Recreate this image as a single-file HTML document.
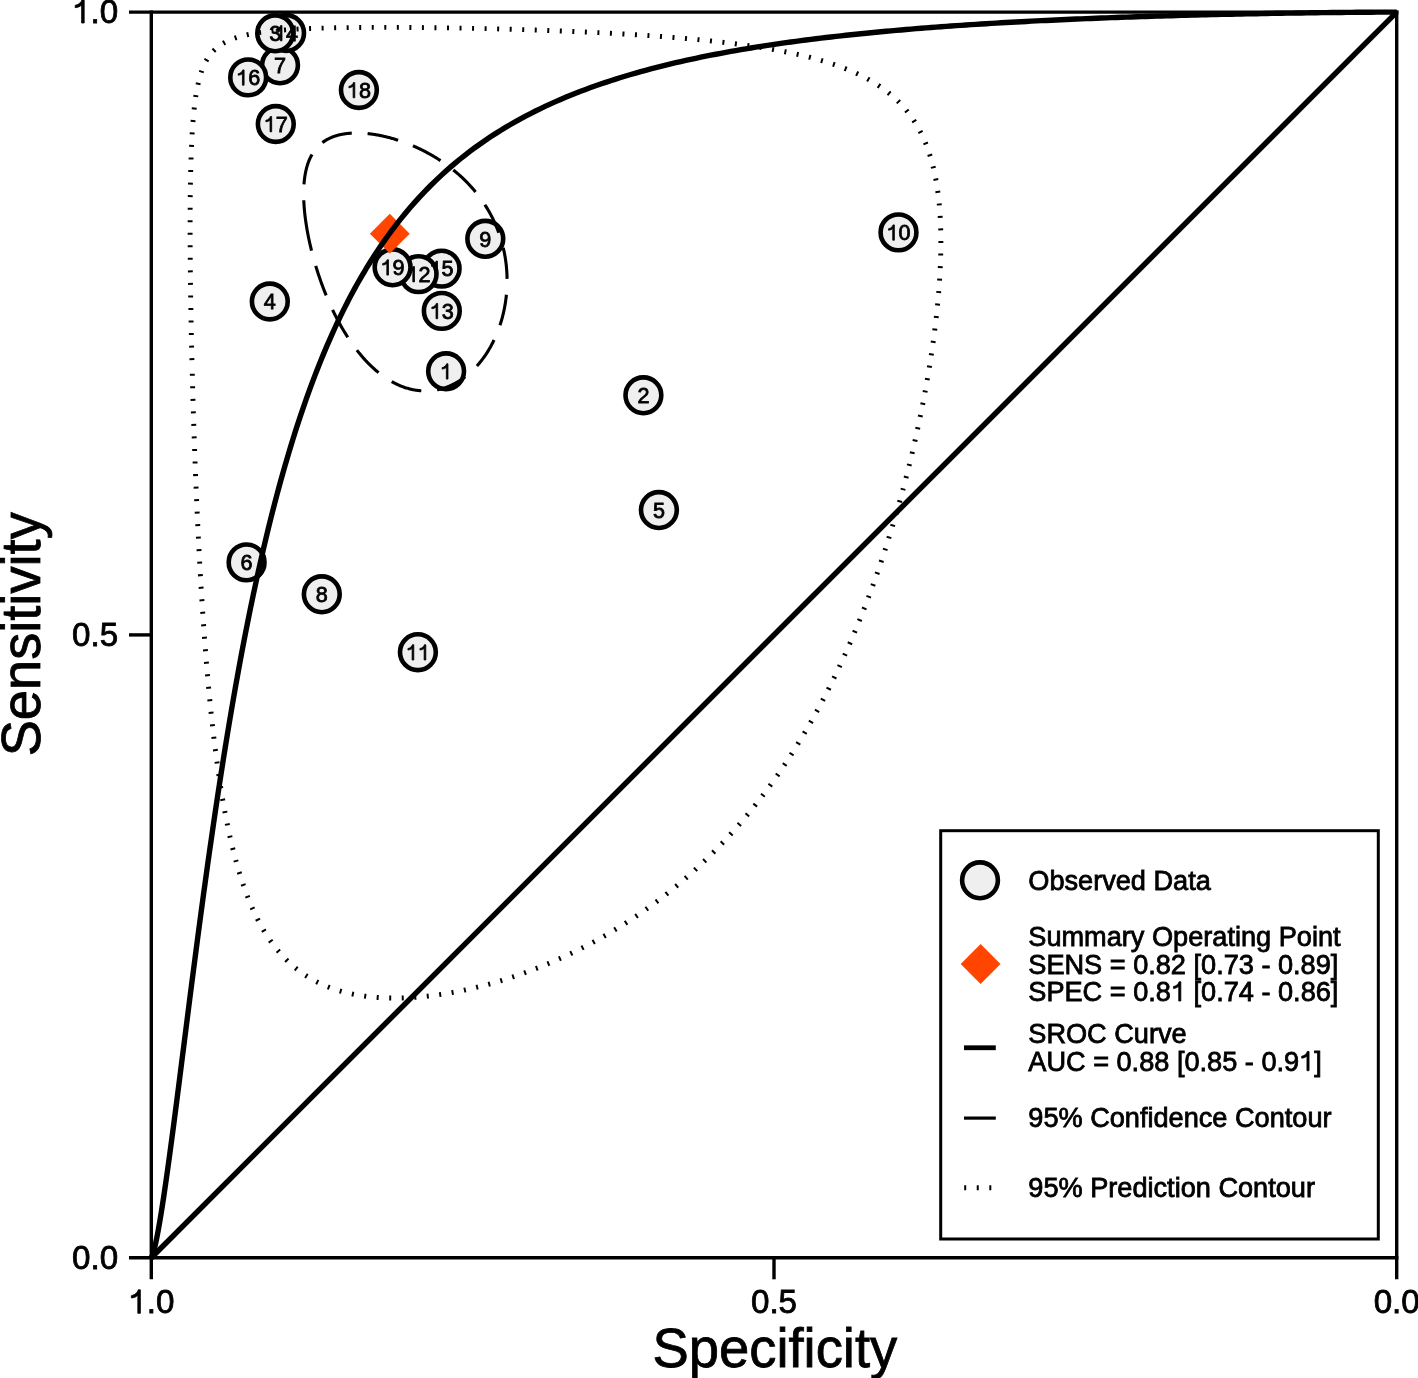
<!DOCTYPE html>
<html><head><meta charset="utf-8">
<style>
html,body{margin:0;padding:0;background:#fff;}
svg{display:block;will-change:transform;}
text{font-family:"Liberation Sans", sans-serif;fill:#000;stroke:#000;stroke-width:0.8px;font-kerning:none;}
.one{fill:none !important;stroke:none !important;}
</style></head>
<body>
<svg width="1418" height="1378" viewBox="0 0 1418 1378">
<rect width="1418" height="1378" fill="#fff"/>
<g stroke="#000" stroke-width="3.4" fill="none" stroke-linecap="butt">
<path d="M129,12.1 H1398.4"/>
<path d="M129,1257.75 H1398.4"/>
<path d="M151.3,10.4 V1279.3"/>
<path d="M1396.7,10.4 V1279.3"/>
<path d="M129,634.9 H151.3"/>
<path d="M774,1257.75 V1279.3"/>
</g>
<path d="M151.3,1257.75 L1396.7,12.1" stroke="#000" stroke-width="5.4" fill="none"/>
<g fill="#efefef" stroke="#000" stroke-width="4.6">
<circle cx="280.0" cy="65.3" r="17.9"/>
<circle cx="248.2" cy="77.4" r="17.9"/>
<circle cx="286.1" cy="33.0" r="17.9"/>
<circle cx="275.2" cy="33.3" r="17.9"/>
<circle cx="275.8" cy="124.0" r="17.9"/>
<circle cx="358.9" cy="90.0" r="17.9"/>
<circle cx="269.8" cy="301.5" r="17.9"/>
<circle cx="898.5" cy="232.4" r="17.9"/>
<circle cx="485.3" cy="238.8" r="17.9"/>
<circle cx="441.6" cy="268.6" r="17.9"/>
<circle cx="418.6" cy="274.1" r="17.9"/>
<circle cx="392.6" cy="267.3" r="17.9"/>
<circle cx="441.8" cy="310.9" r="17.9"/>
<circle cx="446.1" cy="371.3" r="17.9"/>
<circle cx="643.4" cy="395.3" r="17.9"/>
<circle cx="658.9" cy="510.05" r="17.9"/>
<circle cx="246.6" cy="562.4" r="17.9"/>
<circle cx="321.8" cy="594.3" r="17.9"/>
<circle cx="417.9" cy="652.2" r="17.9"/>
</g>
<path d="M389.8,213.79999999999998 L409.7,233.7 L389.8,253.6 L369.90000000000003,233.7 Z" fill="#ff4500"/>
<path d="M151.30,1257.75 L151.30,1257.75 L151.30,1257.75 L151.30,1257.75 L151.30,1257.75 L151.30,1257.75 L151.30,1257.75 L151.30,1257.75 L151.30,1257.75 L151.30,1257.75 L151.30,1257.75 L151.30,1257.75 L151.30,1257.75 L151.30,1257.75 L151.30,1257.75 L151.30,1257.75 L151.30,1257.75 L151.30,1257.75 L151.30,1257.75 L151.30,1257.75 L151.31,1257.75 L151.31,1257.75 L151.31,1257.75 L151.31,1257.75 L151.31,1257.75 L151.31,1257.74 L151.32,1257.74 L151.32,1257.74 L151.32,1257.74 L151.33,1257.73 L151.34,1257.73 L151.34,1257.72 L151.35,1257.71 L151.36,1257.70 L151.38,1257.69 L151.39,1257.67 L151.42,1257.65 L151.44,1257.62 L151.47,1257.58 L151.51,1257.53 L151.55,1257.46 L151.61,1257.37 L151.67,1257.26 L151.75,1257.11 L151.85,1256.91 L151.97,1256.66 L152.11,1256.32 L152.29,1255.88 L152.50,1255.31 L152.76,1254.55 L153.07,1253.57 L153.45,1252.27 L153.91,1250.58 L154.48,1248.36 L155.16,1245.46 L155.99,1241.65 L157.01,1236.68 L158.24,1230.18 L159.73,1221.72 L161.55,1210.72 L163.75,1196.47 L165.74,1182.96 L167.73,1168.94 L169.72,1154.49 L171.71,1139.69 L173.70,1124.62 L175.68,1109.34 L177.67,1093.89 L179.66,1078.34 L181.65,1062.71 L183.64,1047.05 L185.63,1031.39 L187.62,1015.76 L189.60,1000.19 L191.59,984.71 L193.58,969.32 L195.57,954.05 L197.56,938.92 L199.55,923.94 L201.53,909.12 L203.52,894.47 L205.51,880.01 L207.50,865.73 L209.49,851.65 L211.48,837.77 L213.47,824.10 L215.45,810.64 L217.44,797.39 L219.43,784.35 L221.42,771.53 L223.41,758.92 L225.40,746.53 L227.38,734.36 L229.37,722.40 L231.36,710.66 L233.35,699.13 L235.34,687.81 L237.33,676.70 L239.32,665.80 L241.30,655.10 L243.29,644.60 L245.28,634.31 L247.27,624.20 L249.26,614.30 L251.25,604.58 L253.23,595.05 L255.22,585.71 L257.21,576.54 L259.20,567.56 L261.19,558.75 L263.18,550.11 L265.17,541.64 L267.15,533.33 L269.14,525.19 L271.13,517.20 L273.12,509.37 L275.11,501.69 L277.10,494.16 L279.08,486.78 L281.07,479.54 L283.06,472.44 L285.05,465.48 L287.04,458.65 L289.03,451.95 L291.02,445.38 L293.00,438.93 L294.99,432.61 L296.98,426.41 L298.97,420.33 L300.96,414.36 L302.95,408.51 L304.93,402.76 L306.92,397.12 L308.91,391.59 L310.90,386.16 L312.89,380.83 L314.88,375.60 L316.86,370.46 L318.85,365.42 L320.84,360.48 L322.83,355.62 L324.82,350.85 L326.81,346.16 L328.80,341.57 L330.78,337.05 L332.77,332.61 L334.76,328.25 L336.75,323.97 L338.74,319.77 L340.73,315.64 L342.71,311.58 L344.70,307.59 L346.69,303.67 L348.68,299.82 L350.67,296.04 L352.66,292.32 L354.65,288.66 L356.63,285.07 L358.62,281.53 L360.61,278.06 L362.60,274.64 L364.59,271.29 L366.58,267.98 L368.56,264.74 L370.55,261.54 L372.54,258.40 L374.53,255.31 L376.52,252.27 L378.51,249.28 L380.50,246.33 L382.48,243.44 L384.47,240.59 L386.46,237.79 L388.45,235.03 L390.44,232.31 L392.43,229.64 L394.41,227.01 L396.40,224.42 L398.39,221.87 L400.38,219.36 L405.39,213.21 L410.39,207.29 L415.40,201.60 L420.41,196.11 L425.41,190.83 L430.42,185.74 L435.43,180.83 L440.43,176.10 L445.44,171.54 L450.45,167.13 L455.45,162.88 L460.46,158.77 L465.47,154.80 L470.47,150.97 L475.48,147.26 L480.49,143.68 L485.49,140.21 L490.50,136.85 L495.51,133.61 L500.51,130.46 L505.52,127.41 L510.53,124.46 L515.53,121.60 L520.54,118.83 L525.55,116.15 L530.55,113.54 L535.56,111.01 L540.57,108.56 L545.57,106.17 L550.58,103.86 L555.59,101.62 L560.59,99.44 L565.60,97.32 L570.61,95.26 L575.61,93.25 L580.62,91.31 L585.63,89.42 L590.63,87.58 L595.64,85.79 L600.65,84.04 L605.65,82.35 L610.66,80.70 L615.67,79.09 L620.67,77.52 L625.68,76.00 L630.69,74.52 L635.69,73.07 L640.70,71.66 L645.71,70.28 L650.71,68.95 L655.72,67.64 L660.72,66.37 L665.73,65.12 L670.74,63.91 L675.74,62.73 L680.75,61.58 L685.76,60.45 L690.76,59.35 L695.77,58.28 L700.78,57.23 L705.78,56.21 L710.79,55.21 L715.80,54.24 L720.80,53.28 L725.81,52.35 L730.82,51.44 L735.82,50.56 L740.83,49.69 L745.84,48.84 L750.84,48.01 L755.85,47.20 L760.86,46.41 L765.86,45.63 L770.87,44.87 L775.88,44.13 L780.88,43.40 L785.89,42.69 L790.90,42.00 L795.90,41.32 L800.91,40.66 L805.92,40.01 L810.92,39.37 L815.93,38.75 L820.94,38.14 L825.94,37.54 L830.95,36.96 L835.96,36.38 L840.96,35.82 L845.97,35.27 L850.98,34.74 L855.98,34.21 L860.99,33.70 L866.00,33.19 L871.00,32.70 L876.01,32.21 L881.02,31.74 L886.02,31.27 L891.03,30.82 L896.04,30.37 L901.04,29.94 L906.05,29.51 L911.06,29.09 L916.06,28.68 L921.07,28.27 L926.08,27.88 L931.08,27.49 L936.09,27.11 L941.10,26.74 L946.10,26.38 L951.11,26.02 L956.12,25.67 L961.12,25.33 L966.13,24.99 L971.14,24.66 L976.14,24.34 L981.15,24.02 L986.16,23.71 L991.16,23.40 L996.17,23.11 L1001.18,22.81 L1006.18,22.53 L1011.19,22.24 L1016.20,21.97 L1021.20,21.70 L1026.21,21.43 L1031.22,21.17 L1036.22,20.92 L1041.23,20.67 L1046.24,20.43 L1051.24,20.19 L1056.25,19.95 L1061.26,19.72 L1066.26,19.49 L1071.27,19.27 L1076.28,19.06 L1081.28,18.84 L1086.29,18.64 L1091.30,18.43 L1096.30,18.23 L1101.31,18.04 L1106.32,17.84 L1111.32,17.66 L1116.33,17.47 L1121.34,17.29 L1126.34,17.12 L1131.35,16.94 L1136.36,16.77 L1141.36,16.61 L1146.37,16.45 L1151.37,16.29 L1156.38,16.13 L1161.39,15.98 L1166.39,15.83 L1171.40,15.69 L1176.41,15.55 L1181.41,15.41 L1186.42,15.27 L1191.43,15.14 L1196.43,15.01 L1201.44,14.88 L1206.45,14.76 L1211.45,14.64 L1216.46,14.52 L1221.47,14.41 L1226.47,14.29 L1231.48,14.18 L1236.49,14.08 L1241.49,13.97 L1246.50,13.87 L1251.51,13.77 L1256.51,13.68 L1261.52,13.59 L1266.53,13.50 L1271.53,13.41 L1276.54,13.32 L1281.55,13.24 L1286.55,13.16 L1291.56,13.08 L1296.57,13.01 L1301.57,12.94 L1306.58,12.87 L1311.59,12.80 L1316.59,12.73 L1321.60,12.67 L1326.61,12.61 L1331.61,12.56 L1336.62,12.50 L1341.63,12.45 L1346.63,12.40 L1351.64,12.36 L1356.65,12.31 L1361.65,12.27 L1366.66,12.24 L1371.67,12.20 L1376.67,12.17 L1381.68,12.15 L1386.69,12.13 L1391.69,12.11 L1396.70,12.10" stroke="#000" stroke-width="5.4" fill="none" stroke-linejoin="round"/>
<path d="M305.54,219.87 L305.66,220.71 L305.78,221.56 L305.90,222.41 L306.03,223.27 L306.16,224.12 L306.29,224.98 L306.43,225.85 L306.57,226.72 L306.71,227.59 L306.86,228.46 L307.01,229.34 L307.16,230.22 L307.32,231.10 L307.48,231.99 L307.65,232.88 L307.82,233.77 L307.99,234.66 L308.16,235.56 L308.34,236.46 L308.52,237.36 L308.71,238.27 L308.90,239.18 L309.09,240.09 L309.29,241.00 L309.49,241.92 L309.69,242.84 L309.90,243.76 L310.11,244.68 L310.32,245.60 L310.54,246.53 L310.76,247.46 L310.98,248.39 L311.21,249.33 L311.44,250.26 L311.67,251.20 L311.91,252.14 L312.15,253.08 L312.40,254.03 L312.65,254.97 L312.90,255.92 L313.15,256.87 L313.41,257.82 L313.67,258.77 L313.94,259.72 L314.21,260.68 L314.48,261.64 L314.76,262.59 L315.04,263.55 L315.32,264.51 L315.61,265.47 L315.90,266.44 L316.19,267.40 L316.49,268.36 L316.79,269.33 L317.10,270.30 L317.40,271.26 L317.72,272.23 L318.03,273.20 L318.35,274.17 L318.67,275.14 L319.00,276.11 L319.32,277.08 L319.66,278.05 L319.99,279.02 L320.33,279.99 L320.67,280.96 L321.02,281.94 L321.37,282.91 L321.72,283.88 L322.08,284.85 L322.44,285.82 L322.80,286.79 L323.17,287.76 L323.54,288.73 L323.92,289.70 L324.29,290.67 L324.68,291.64 L325.06,292.61 L325.45,293.58 L325.84,294.54 L326.23,295.51 L326.63,296.47 L327.03,297.44 L327.44,298.40 L327.85,299.36 L328.26,300.32 L328.68,301.28 L329.10,302.24 L329.52,303.19 L329.94,304.15 L330.37,305.10 L330.81,306.05 L331.24,307.00 L331.68,307.95 L332.12,308.89 L332.57,309.84 L333.02,310.78 L333.47,311.72 L333.93,312.66 L334.39,313.59 L334.85,314.52 L335.32,315.45 L335.79,316.38 L336.26,317.31 L336.74,318.23 L337.22,319.15 L337.70,320.06 L338.19,320.98 L338.68,321.89 L339.17,322.80 L339.67,323.70 L340.17,324.60 L340.67,325.50 L341.18,326.40 L341.69,327.29 L342.20,328.18 L342.72,329.06 L343.23,329.94 L343.76,330.82 L344.28,331.69 L344.81,332.56 L345.34,333.43 L345.88,334.29 L346.42,335.15 L346.96,336.00 L347.50,336.85 L348.05,337.70 L348.60,338.54 L349.16,339.37 L349.71,340.21 L350.27,341.03 L350.84,341.86 L351.40,342.67 L351.97,343.49 L352.54,344.30 L353.12,345.10 L353.70,345.90 L354.28,346.69 L354.86,347.48 L355.45,348.26 L356.04,349.04 L356.63,349.81 L357.23,350.58 L357.83,351.34 L358.43,352.10 L359.03,352.85 L359.64,353.59 L360.25,354.33 L360.86,355.07 L361.48,355.79 L362.09,356.52 L362.71,357.23 L363.34,357.94 L363.96,358.64 L364.59,359.34 L365.22,360.03 L365.86,360.72 L366.49,361.40 L367.13,362.07 L367.77,362.73 L368.42,363.39 L369.07,364.05 L369.71,364.69 L370.37,365.33 L371.02,365.96 L371.68,366.59 L372.34,367.21 L373.00,367.82 L373.66,368.42 L374.33,369.02 L374.99,369.61 L375.66,370.20 L376.34,370.77 L377.01,371.34 L377.69,371.90 L378.37,372.46 L379.05,373.01 L379.73,373.55 L380.42,374.08 L381.10,374.60 L381.79,375.12 L382.48,375.63 L383.18,376.13 L383.87,376.63 L384.57,377.11 L385.27,377.59 L385.97,378.06 L386.67,378.52 L387.37,378.98 L388.08,379.43 L388.78,379.87 L389.49,380.30 L390.20,380.72 L390.92,381.13 L391.63,381.54 L392.34,381.94 L393.06,382.33 L393.78,382.71 L394.50,383.09 L395.22,383.45 L395.94,383.81 L396.66,384.16 L397.39,384.50 L398.11,384.83 L398.84,385.15 L399.57,385.47 L400.30,385.77 L401.03,386.07 L401.76,386.36 L402.49,386.64 L403.22,386.91 L403.96,387.17 L404.69,387.43 L405.43,387.67 L406.16,387.91 L406.90,388.14 L407.64,388.36 L408.38,388.57 L409.12,388.77 L409.86,388.96 L410.60,389.15 L411.34,389.32 L412.08,389.49 L412.82,389.65 L413.56,389.79 L414.30,389.93 L415.05,390.06 L415.79,390.19 L416.53,390.30 L417.27,390.40 L418.02,390.50 L418.76,390.58 L419.50,390.66 L420.25,390.73 L420.99,390.79 L421.73,390.84 L422.47,390.88 L423.22,390.91 L423.96,390.93 L424.70,390.94 L425.44,390.95 L426.18,390.94 L426.92,390.93 L427.66,390.91 L428.40,390.88 L429.14,390.84 L429.88,390.79 L430.61,390.73 L431.35,390.66 L432.09,390.58 L432.82,390.50 L433.55,390.40 L434.29,390.30 L435.02,390.19 L435.75,390.07 L436.48,389.93 L437.21,389.80 L437.94,389.65 L438.66,389.49 L439.39,389.32 L440.11,389.15 L440.83,388.96 L441.55,388.77 L442.27,388.57 L442.99,388.36 L443.71,388.14 L444.42,387.91 L445.13,387.68 L445.84,387.43 L446.55,387.18 L447.26,386.91 L447.97,386.64 L448.67,386.36 L449.37,386.07 L450.07,385.77 L450.77,385.47 L451.46,385.15 L452.15,384.83 L452.84,384.50 L453.53,384.16 L454.22,383.81 L454.90,383.45 L455.58,383.09 L456.26,382.71 L456.94,382.33 L457.61,381.94 L458.28,381.54 L458.95,381.14 L459.62,380.72 L460.28,380.30 L460.94,379.87 L461.59,379.43 L462.25,378.98 L462.90,378.53 L463.55,378.07 L464.19,377.59 L464.83,377.12 L465.47,376.63 L466.11,376.14 L466.74,375.63 L467.37,375.12 L467.99,374.61 L468.61,374.08 L469.23,373.55 L469.85,373.01 L470.46,372.46 L471.06,371.91 L471.67,371.35 L472.27,370.78 L472.86,370.20 L473.46,369.62 L474.05,369.03 L474.63,368.43 L475.21,367.82 L475.79,367.21 L476.36,366.59 L476.93,365.97 L477.49,365.34 L478.05,364.70 L478.61,364.05 L479.16,363.40 L479.71,362.74 L480.25,362.07 L480.79,361.40 L481.33,360.72 L481.86,360.04 L482.38,359.35 L482.90,358.65 L483.42,357.95 L483.93,357.24 L484.44,356.52 L484.94,355.80 L485.44,355.07 L485.93,354.34 L486.42,353.60 L486.90,352.85 L487.38,352.10 L487.85,351.35 L488.32,350.59 L488.78,349.82 L489.24,349.05 L489.70,348.27 L490.14,347.49 L490.59,346.70 L491.02,345.90 L491.46,345.10 L491.88,344.30 L492.31,343.49 L492.72,342.68 L493.13,341.86 L493.54,341.04 L493.94,340.21 L494.33,339.38 L494.72,338.54 L495.11,337.70 L495.48,336.86 L495.86,336.01 L496.22,335.15 L496.58,334.30 L496.94,333.44 L497.29,332.57 L497.63,331.70 L497.97,330.83 L498.30,329.95 L498.63,329.07 L498.95,328.18 L499.27,327.30 L499.58,326.40 L499.88,325.51 L500.18,324.61 L500.47,323.71 L500.75,322.80 L501.03,321.90 L501.30,320.98 L501.57,320.07 L501.83,319.15 L502.09,318.23 L502.34,317.31 L502.58,316.39 L502.81,315.46 L503.04,314.53 L503.27,313.60 L503.49,312.66 L503.70,311.73 L503.90,310.79 L504.10,309.84 L504.29,308.90 L504.48,307.96 L504.66,307.01 L504.83,306.06 L505.00,305.11 L505.16,304.15 L505.32,303.20 L505.47,302.24 L505.61,301.29 L505.74,300.33 L505.87,299.37 L505.99,298.41 L506.11,297.44 L506.22,296.48 L506.32,295.52 L506.42,294.55 L506.51,293.58 L506.59,292.62 L506.67,291.65 L506.74,290.68 L506.80,289.71 L506.86,288.74 L506.91,287.77 L506.96,286.80 L506.99,285.83 L507.03,284.86 L507.05,283.89 L507.07,282.91 L507.08,281.94 L507.09,280.97 L507.08,280.00 L507.08,279.03 L507.06,278.06 L507.04,277.09 L507.01,276.12 L506.98,275.15 L506.94,274.18 L506.89,273.21 L506.84,272.24 L506.78,271.27 L506.71,270.30 L506.64,269.34 L506.56,268.37 L506.47,267.41 L506.38,266.44 L506.28,265.48 L506.17,264.52 L506.06,263.56 L505.94,262.60 L505.82,261.64 L505.69,260.69 L505.55,259.73 L505.40,258.78 L505.25,257.83 L505.10,256.87 L504.93,255.93 L504.76,254.98 L504.59,254.03 L504.40,253.09 L504.22,252.15 L504.02,251.21 L503.82,250.27 L503.61,249.33 L503.40,248.40 L503.18,247.47 L502.95,246.54 L502.72,245.61 L502.48,244.69 L502.23,243.76 L501.98,242.84 L501.72,241.92 L501.46,241.01 L501.19,240.09 L500.92,239.18 L500.63,238.28 L500.35,237.37 L500.05,236.47 L499.75,235.57 L499.45,234.67 L499.14,233.78 L498.82,232.88 L498.50,231.99 L498.17,231.11 L497.83,230.23 L497.49,229.35 L497.15,228.47 L496.79,227.59 L496.44,226.72 L496.07,225.86 L495.70,224.99 L495.33,224.13 L494.95,223.27 L494.56,222.42 L494.17,221.57 L493.77,220.72 L493.37,219.87 L492.96,219.03 L492.55,218.19 L492.13,217.36 L491.71,216.53 L491.28,215.70 L490.84,214.88 L490.40,214.06 L489.96,213.24 L489.51,212.43 L489.05,211.62 L488.59,210.81 L488.13,210.01 L487.66,209.21 L487.18,208.42 L486.70,207.63 L486.22,206.84 L485.73,206.06 L485.23,205.28 L484.73,204.50 L484.23,203.73 L483.72,202.96 L483.21,202.20 L482.69,201.44 L482.16,200.68 L481.64,199.93 L481.11,199.18 L480.57,198.44 L480.03,197.70 L479.48,196.97 L478.93,196.23 L478.38,195.51 L477.82,194.78 L477.26,194.06 L476.69,193.35 L476.12,192.64 L475.55,191.93 L474.97,191.23 L474.39,190.53 L473.80,189.84 L473.21,189.15 L472.62,188.46 L472.02,187.78 L471.42,187.10 L470.81,186.43 L470.20,185.76 L469.59,185.10 L468.97,184.44 L468.36,183.78 L467.73,183.13 L467.11,182.48 L466.48,181.84 L465.84,181.20 L465.21,180.57 L464.57,179.94 L463.92,179.31 L463.28,178.69 L462.63,178.07 L461.98,177.46 L461.32,176.85 L460.66,176.25 L460.00,175.65 L459.34,175.05 L458.67,174.46 L458.00,173.88 L457.33,173.29 L456.66,172.72 L455.98,172.14 L455.30,171.57 L454.62,171.01 L453.93,170.45 L453.25,169.89 L452.56,169.34 L451.87,168.79 L451.17,168.25 L450.48,167.71 L449.78,167.18 L449.08,166.65 L448.38,166.12 L447.67,165.60 L446.97,165.09 L446.26,164.57 L445.55,164.07 L444.84,163.56 L444.12,163.06 L443.41,162.57 L442.69,162.08 L441.97,161.59 L441.25,161.11 L440.53,160.63 L439.81,160.16 L439.09,159.69 L438.36,159.22 L437.63,158.76 L436.91,158.31 L436.18,157.86 L435.45,157.41 L434.72,156.97 L433.98,156.53 L433.25,156.09 L432.52,155.66 L431.78,155.24 L431.04,154.81 L430.31,154.40 L429.57,153.98 L428.83,153.57 L428.09,153.17 L427.35,152.77 L426.61,152.37 L425.87,151.98 L425.13,151.59 L424.39,151.21 L423.65,150.83 L422.91,150.45 L422.16,150.08 L421.42,149.72 L420.68,149.35 L419.94,149.00 L419.19,148.64 L418.45,148.29 L417.71,147.94 L416.97,147.60 L416.22,147.26 L415.48,146.93 L414.74,146.60 L413.99,146.28 L413.25,145.95 L412.51,145.64 L411.77,145.32 L411.03,145.02 L410.29,144.71 L409.55,144.41 L408.81,144.11 L408.07,143.82 L407.33,143.53 L406.60,143.25 L405.86,142.97 L405.12,142.69 L404.39,142.42 L403.65,142.15 L402.92,141.88 L402.19,141.62 L401.45,141.37 L400.72,141.11 L399.99,140.87 L399.27,140.62 L398.54,140.38 L397.81,140.14 L397.09,139.91 L396.36,139.68 L395.64,139.46 L394.92,139.24 L394.20,139.02 L393.48,138.81 L392.76,138.60 L392.05,138.39 L391.33,138.19 L390.62,137.99 L389.91,137.80 L389.20,137.61 L388.49,137.43 L387.78,137.24 L387.08,137.07 L386.38,136.89 L385.67,136.72 L384.97,136.55 L384.28,136.39 L383.58,136.23 L382.89,136.08 L382.19,135.93 L381.50,135.78 L380.82,135.64 L380.13,135.50 L379.45,135.36 L378.76,135.23 L378.08,135.10 L377.41,134.98 L376.73,134.86 L376.06,134.74 L375.38,134.63 L374.72,134.52 L374.05,134.41 L373.38,134.31 L372.72,134.22 L372.06,134.12 L371.40,134.03 L370.75,133.95 L370.09,133.86 L369.44,133.78 L368.80,133.71 L368.15,133.64 L367.51,133.57 L366.87,133.51 L366.23,133.45 L365.59,133.39 L364.96,133.34 L364.33,133.29 L363.70,133.24 L363.08,133.20 L362.46,133.17 L361.84,133.13 L361.22,133.10 L360.60,133.08 L359.99,133.05 L359.38,133.04 L358.78,133.02 L358.18,133.01 L357.58,133.00 L356.98,133.00 L356.38,133.00 L355.79,133.00 L355.20,133.01 L354.62,133.02 L354.04,133.04 L353.46,133.05 L352.88,133.08 L352.30,133.10 L351.73,133.13 L351.17,133.17 L350.60,133.20 L350.04,133.24 L349.48,133.29 L348.92,133.34 L348.37,133.39 L347.82,133.45 L347.28,133.51 L346.73,133.57 L346.19,133.64 L345.66,133.71 L345.12,133.78 L344.59,133.86 L344.06,133.94 L343.54,134.03 L343.02,134.12 L342.50,134.22 L341.99,134.31 L341.47,134.41 L340.97,134.52 L340.46,134.63 L339.96,134.74 L339.46,134.86 L338.97,134.98 L338.47,135.10 L337.99,135.23 L337.50,135.36 L337.02,135.50 L336.54,135.64 L336.07,135.78 L335.59,135.93 L335.13,136.08 L334.66,136.23 L334.20,136.39 L333.74,136.55 L333.28,136.72 L332.83,136.89 L332.38,137.06 L331.94,137.24 L331.50,137.42 L331.06,137.61 L330.63,137.80 L330.19,137.99 L329.77,138.19 L329.34,138.39 L328.92,138.60 L328.50,138.81 L328.09,139.02 L327.68,139.23 L327.27,139.46 L326.87,139.68 L326.47,139.91 L326.07,140.14 L325.68,140.38 L325.29,140.62 L324.90,140.86 L324.52,141.11 L324.14,141.36 L323.76,141.62 L323.39,141.88 L323.02,142.15 L322.65,142.41 L322.29,142.69 L321.93,142.96 L321.58,143.24 L321.23,143.53 L320.88,143.82 L320.53,144.11 L320.19,144.41 L319.85,144.71 L319.52,145.01 L319.19,145.32 L318.86,145.64 L318.54,145.95 L318.22,146.27 L317.90,146.60 L317.59,146.93 L317.28,147.26 L316.97,147.60 L316.67,147.94 L316.37,148.29 L316.07,148.64 L315.78,148.99 L315.49,149.35 L315.20,149.71 L314.92,150.08 L314.64,150.45 L314.37,150.83 L314.10,151.21 L313.83,151.59 L313.56,151.98 L313.30,152.37 L313.05,152.77 L312.79,153.17 L312.54,153.57 L312.30,153.98 L312.05,154.39 L311.81,154.81 L311.58,155.23 L311.34,155.66 L311.11,156.09 L310.89,156.52 L310.66,156.96 L310.45,157.41 L310.23,157.85 L310.02,158.31 L309.81,158.76 L309.60,159.22 L309.40,159.69 L309.20,160.16 L309.01,160.63 L308.82,161.11 L308.63,161.59 L308.45,162.07 L308.27,162.56 L308.09,163.06 L307.92,163.56 L307.74,164.06 L307.58,164.57 L307.41,165.08 L307.26,165.60 L307.10,166.12 L306.95,166.65 L306.80,167.18 L306.65,167.71 L306.51,168.25 L306.37,168.79 L306.23,169.34 L306.10,169.89 L305.97,170.45 L305.85,171.01 L305.73,171.57 L305.61,172.14 L305.49,172.71 L305.38,173.29 L305.27,173.87 L305.17,174.46 L305.07,175.05 L304.97,175.65 L304.88,176.24 L304.79,176.85 L304.70,177.46 L304.61,178.07 L304.53,178.69 L304.46,179.31 L304.38,179.93 L304.31,180.56 L304.25,181.20 L304.19,181.84 L304.13,182.48 L304.07,183.13 L304.02,183.78 L303.97,184.43 L303.92,185.09 L303.88,185.76 L303.84,186.43 L303.81,187.10 L303.77,187.78 L303.74,188.46 L303.72,189.14 L303.70,189.83 L303.68,190.53 L303.66,191.22 L303.65,191.93 L303.65,192.63 L303.64,193.34 L303.64,194.06 L303.64,194.78 L303.65,195.50 L303.66,196.23 L303.67,196.96 L303.69,197.70 L303.71,198.44 L303.73,199.18 L303.76,199.93 L303.79,200.68 L303.82,201.43 L303.86,202.19 L303.90,202.96 L303.94,203.72 L303.99,204.50 L304.04,205.27 L304.09,206.05 L304.15,206.83 L304.21,207.62 L304.28,208.41 L304.34,209.20 L304.41,210.00 L304.49,210.80 L304.57,211.61 L304.65,212.42 L304.73,213.23 L304.82,214.05 L304.91,214.87 L305.01,215.69 L305.11,216.52 L305.21,217.35 L305.32,218.19 L305.43,219.02 L305.54,219.87" stroke="#000" stroke-width="3.1" fill="none" stroke-dasharray="31.3 15.86"/>
<path d="M192.09,366.70 L192.13,368.48 L192.18,370.28 L192.22,372.07 L192.27,373.87 L192.32,375.67 L192.37,377.48 L192.41,379.29 L192.46,381.11 L192.51,382.93 L192.56,384.75 L192.61,386.58 L192.66,388.41 L192.71,390.24 L192.77,392.08 L192.82,393.93 L192.87,395.78 L192.92,397.63 L192.98,399.48 L193.03,401.34 L193.09,403.20 L193.14,405.07 L193.20,406.94 L193.26,408.81 L193.32,410.68 L193.37,412.56 L193.43,414.45 L193.49,416.33 L193.55,418.22 L193.61,420.11 L193.67,422.01 L193.73,423.91 L193.80,425.81 L193.86,427.71 L193.92,429.62 L193.99,431.53 L194.05,433.44 L194.12,435.36 L194.18,437.27 L194.25,439.20 L194.31,441.12 L194.38,443.04 L194.45,444.97 L194.52,446.90 L194.59,448.84 L194.66,450.77 L194.73,452.71 L194.80,454.65 L194.87,456.59 L194.94,458.54 L195.02,460.48 L195.09,462.43 L195.16,464.38 L195.24,466.33 L195.31,468.29 L195.39,470.24 L195.47,472.20 L195.54,474.16 L195.62,476.12 L195.70,478.08 L195.78,480.04 L195.86,482.01 L195.94,483.97 L196.02,485.94 L196.10,487.91 L196.18,489.88 L196.27,491.85 L196.35,493.82 L196.43,495.80 L196.52,497.77 L196.61,499.74 L196.69,501.72 L196.78,503.70 L196.87,505.67 L196.95,507.65 L197.04,509.63 L197.13,511.61 L197.22,513.59 L197.31,515.57 L197.41,517.55 L197.50,519.53 L197.59,521.51 L197.69,523.49 L197.78,525.47 L197.87,527.45 L197.97,529.43 L198.07,531.41 L198.16,533.39 L198.26,535.37 L198.36,537.35 L198.46,539.33 L198.56,541.31 L198.66,543.29 L198.76,545.27 L198.87,547.25 L198.97,549.22 L199.07,551.20 L199.18,553.18 L199.28,555.15 L199.39,557.13 L199.49,559.10 L199.60,561.07 L199.71,563.04 L199.82,565.02 L199.93,566.98 L200.04,568.95 L200.15,570.92 L200.26,572.89 L200.37,574.85 L200.49,576.81 L200.60,578.77 L200.72,580.73 L200.83,582.69 L200.95,584.65 L201.07,586.61 L201.19,588.56 L201.30,590.51 L201.42,592.46 L201.54,594.41 L201.67,596.35 L201.79,598.30 L201.91,600.24 L202.04,602.18 L202.16,604.12 L202.29,606.05 L202.41,607.99 L202.54,609.92 L202.67,611.85 L202.80,613.77 L202.93,615.70 L203.06,617.62 L203.19,619.54 L203.32,621.45 L203.45,623.37 L203.59,625.28 L203.72,627.18 L203.86,629.09 L203.99,630.99 L204.13,632.89 L204.27,634.79 L204.41,636.68 L204.55,638.57 L204.69,640.46 L204.83,642.34 L204.97,644.22 L205.12,646.10 L205.26,647.98 L205.41,649.85 L205.55,651.71 L205.70,653.58 L205.85,655.44 L206.00,657.30 L206.15,659.15 L206.30,661.00 L206.45,662.85 L206.60,664.69 L206.76,666.53 L206.91,668.36 L207.07,670.20 L207.23,672.02 L207.38,673.85 L207.54,675.67 L207.70,677.48 L207.86,679.30 L208.02,681.10 L208.19,682.91 L208.35,684.71 L208.51,686.50 L208.68,688.29 L208.85,690.08 L209.01,691.87 L209.18,693.64 L209.35,695.42 L209.52,697.19 L209.69,698.95 L209.87,700.72 L210.04,702.47 L210.21,704.23 L210.39,705.97 L210.57,707.72 L210.75,709.46 L210.92,711.19 L211.10,712.92 L211.29,714.64 L211.47,716.36 L211.65,718.08 L211.84,719.79 L212.02,721.50 L212.21,723.20 L212.40,724.89 L212.58,726.59 L212.77,728.27 L212.97,729.95 L213.16,731.63 L213.35,733.30 L213.54,734.97 L213.74,736.63 L213.94,738.29 L214.13,739.94 L214.33,741.59 L214.53,743.23 L214.74,744.86 L214.94,746.49 L215.14,748.12 L215.35,749.74 L215.55,751.36 L215.76,752.97 L215.97,754.57 L216.18,756.17 L216.39,757.77 L216.60,759.36 L216.81,760.94 L217.03,762.52 L217.24,764.09 L217.46,765.66 L217.68,767.22 L217.90,768.78 L218.12,770.33 L218.34,771.87 L218.56,773.42 L218.79,774.95 L219.02,776.48 L219.24,778.00 L219.47,779.52 L219.70,781.04 L219.93,782.54 L220.16,784.04 L220.40,785.54 L220.63,787.03 L220.87,788.52 L221.11,790.00 L221.35,791.47 L221.59,792.94 L221.83,794.40 L222.07,795.86 L222.31,797.31 L222.56,798.76 L222.81,800.19 L223.06,801.63 L223.31,803.06 L223.56,804.48 L223.81,805.90 L224.06,807.31 L224.32,808.72 L224.58,810.12 L224.83,811.51 L225.09,812.90 L225.36,814.28 L225.62,815.66 L225.88,817.03 L226.15,818.39 L226.42,819.75 L226.68,821.11 L226.95,822.46 L227.23,823.80 L227.50,825.14 L227.77,826.47 L228.05,827.79 L228.33,829.11 L228.61,830.43 L228.89,831.73 L229.17,833.04 L229.45,834.33 L229.74,835.62 L230.02,836.91 L230.31,838.19 L230.60,839.46 L230.89,840.73 L231.19,841.99 L231.48,843.24 L231.78,844.49 L232.08,845.74 L232.37,846.98 L232.68,848.21 L232.98,849.43 L233.28,850.66 L233.59,851.87 L233.90,853.08 L234.21,854.28 L234.52,855.48 L234.83,856.67 L235.14,857.86 L235.46,859.04 L235.78,860.22 L236.10,861.39 L236.42,862.55 L236.74,863.71 L237.07,864.86 L237.39,866.01 L237.72,867.15 L238.05,868.28 L238.38,869.41 L238.71,870.53 L239.05,871.65 L239.39,872.76 L239.72,873.87 L240.06,874.97 L240.41,876.06 L240.75,877.15 L241.10,878.24 L241.44,879.32 L241.79,880.39 L242.15,881.45 L242.50,882.52 L242.85,883.57 L243.21,884.62 L243.57,885.67 L243.93,886.70 L244.29,887.74 L244.66,888.76 L245.02,889.79 L245.39,890.80 L245.76,891.81 L246.13,892.82 L246.51,893.82 L246.88,894.81 L247.26,895.80 L247.64,896.78 L248.02,897.76 L248.40,898.73 L248.79,899.70 L249.18,900.66 L249.57,901.62 L249.96,902.57 L250.35,903.51 L250.75,904.45 L251.15,905.38 L251.55,906.31 L251.95,907.24 L252.35,908.15 L252.76,909.07 L253.16,909.97 L253.57,910.87 L253.99,911.77 L254.40,912.66 L254.82,913.55 L255.24,914.43 L255.66,915.30 L256.08,916.17 L256.50,917.04 L256.93,917.90 L257.36,918.75 L257.79,919.60 L258.22,920.44 L258.66,921.28 L259.10,922.11 L259.54,922.94 L259.98,923.76 L260.42,924.58 L260.87,925.39 L261.32,926.20 L261.77,927.00 L262.22,927.80 L262.68,928.59 L263.13,929.37 L263.59,930.15 L264.06,930.93 L264.52,931.70 L264.99,932.47 L265.46,933.23 L265.93,933.98 L266.40,934.74 L266.88,935.48 L267.35,936.22 L267.83,936.96 L268.32,937.69 L268.80,938.41 L269.29,939.14 L269.78,939.85 L270.27,940.56 L270.77,941.27 L271.26,941.97 L271.76,942.67 L272.27,943.36 L272.77,944.04 L273.28,944.72 L273.79,945.40 L274.30,946.07 L274.81,946.74 L275.33,947.40 L275.85,948.06 L276.37,948.71 L276.89,949.36 L277.42,950.00 L277.95,950.64 L278.48,951.28 L279.01,951.90 L279.55,952.53 L280.09,953.15 L280.63,953.76 L281.17,954.37 L281.72,954.98 L282.27,955.58 L282.82,956.17 L283.37,956.76 L283.93,957.35 L284.49,957.93 L285.05,958.51 L285.61,959.08 L286.18,959.65 L286.75,960.21 L287.32,960.77 L287.90,961.33 L288.47,961.88 L289.05,962.42 L289.64,962.96 L290.22,963.50 L290.81,964.03 L291.40,964.56 L292.00,965.08 L292.59,965.60 L293.19,966.11 L293.79,966.62 L294.40,967.13 L295.00,967.63 L295.61,968.13 L296.22,968.62 L296.84,969.10 L297.46,969.59 L298.08,970.07 L298.70,970.54 L299.33,971.01 L299.96,971.48 L300.59,971.94 L301.22,972.39 L301.86,972.85 L302.50,973.29 L303.14,973.74 L303.79,974.18 L304.43,974.61 L305.09,975.04 L305.74,975.47 L306.40,975.89 L307.06,976.31 L307.72,976.72 L308.38,977.13 L309.05,977.54 L309.72,977.94 L310.40,978.34 L311.07,978.73 L311.75,979.12 L312.43,979.50 L313.12,979.89 L313.81,980.26 L314.50,980.63 L315.19,981.00 L315.89,981.37 L316.59,981.73 L317.29,982.08 L318.00,982.43 L318.71,982.78 L319.42,983.12 L320.13,983.46 L320.85,983.80 L321.57,984.13 L322.29,984.46 L323.02,984.78 L323.75,985.10 L324.48,985.41 L325.22,985.72 L325.95,986.03 L326.69,986.33 L327.44,986.63 L328.19,986.93 L328.94,987.22 L329.69,987.50 L330.44,987.79 L331.20,988.07 L331.97,988.34 L332.73,988.61 L333.50,988.88 L334.27,989.14 L335.04,989.40 L335.82,989.66 L336.60,989.91 L337.38,990.16 L338.17,990.40 L338.96,990.64 L339.75,990.87 L340.54,991.11 L341.34,991.33 L342.14,991.56 L342.95,991.78 L343.75,992.00 L344.57,992.21 L345.38,992.42 L346.19,992.62 L347.01,992.82 L347.84,993.02 L348.66,993.21 L349.49,993.40 L350.32,993.59 L351.16,993.77 L351.99,993.95 L352.83,994.12 L353.68,994.29 L354.53,994.46 L355.38,994.62 L356.23,994.78 L357.08,994.93 L357.94,995.08 L358.81,995.23 L359.67,995.37 L360.54,995.51 L361.41,995.65 L362.28,995.78 L363.16,995.91 L364.04,996.04 L364.93,996.16 L365.81,996.27 L366.70,996.39 L367.59,996.50 L368.49,996.60 L369.39,996.70 L370.29,996.80 L371.20,996.90 L372.10,996.99 L373.01,997.08 L373.93,997.16 L374.85,997.24 L375.77,997.31 L376.69,997.39 L377.61,997.45 L378.54,997.52 L379.48,997.58 L380.41,997.64 L381.35,997.69 L382.29,997.74 L383.24,997.79 L384.18,997.83 L385.13,997.87 L386.09,997.90 L387.04,997.93 L388.00,997.96 L388.96,997.98 L389.93,998.00 L390.90,998.02 L391.87,998.03 L392.84,998.04 L393.82,998.05 L394.80,998.05 L395.78,998.05 L396.77,998.04 L397.76,998.03 L398.75,998.02 L399.74,998.00 L400.74,997.98 L401.74,997.95 L402.75,997.93 L403.75,997.89 L404.76,997.86 L405.78,997.82 L406.79,997.78 L407.81,997.73 L408.83,997.68 L409.85,997.62 L410.88,997.56 L411.91,997.50 L412.94,997.44 L413.98,997.37 L415.02,997.29 L416.06,997.22 L417.10,997.14 L418.15,997.05 L419.20,996.96 L420.25,996.87 L421.30,996.78 L422.36,996.68 L423.42,996.57 L424.49,996.47 L425.55,996.36 L426.62,996.24 L427.69,996.13 L428.77,996.00 L429.84,995.88 L430.92,995.75 L432.00,995.61 L433.09,995.48 L434.18,995.34 L435.27,995.19 L436.36,995.04 L437.46,994.89 L438.55,994.74 L439.65,994.58 L440.76,994.41 L441.86,994.25 L442.97,994.07 L444.08,993.90 L445.20,993.72 L446.31,993.54 L447.43,993.35 L448.55,993.16 L449.68,992.97 L450.80,992.77 L451.93,992.57 L453.06,992.36 L454.20,992.15 L455.33,991.94 L456.47,991.72 L457.61,991.50 L458.76,991.28 L459.90,991.05 L461.05,990.81 L462.20,990.58 L463.35,990.34 L464.51,990.09 L465.67,989.84 L466.83,989.59 L467.99,989.33 L469.15,989.07 L470.32,988.81 L471.49,988.54 L472.66,988.27 L473.83,987.99 L475.01,987.71 L476.19,987.43 L477.37,987.14 L478.55,986.85 L479.73,986.55 L480.92,986.25 L482.11,985.95 L483.30,985.64 L484.49,985.33 L485.68,985.01 L486.88,984.69 L488.08,984.37 L489.28,984.04 L490.48,983.71 L491.68,983.37 L492.89,983.03 L494.10,982.69 L495.31,982.34 L496.52,981.99 L497.73,981.63 L498.95,981.27 L500.17,980.91 L501.39,980.54 L502.61,980.16 L503.83,979.79 L505.05,979.40 L506.28,979.02 L507.51,978.63 L508.74,978.23 L509.97,977.84 L511.20,977.43 L512.44,977.03 L513.67,976.62 L514.91,976.20 L516.15,975.78 L517.39,975.36 L518.63,974.93 L519.88,974.50 L521.12,974.06 L522.37,973.62 L523.62,973.18 L524.87,972.73 L526.12,972.27 L527.37,971.82 L528.63,971.35 L529.88,970.89 L531.14,970.42 L532.40,969.94 L533.66,969.46 L534.92,968.98 L536.18,968.49 L537.44,968.00 L538.71,967.50 L539.97,967.00 L541.24,966.49 L542.50,965.98 L543.77,965.46 L545.04,964.95 L546.31,964.42 L547.59,963.89 L548.86,963.36 L550.13,962.82 L551.41,962.28 L552.68,961.73 L553.96,961.18 L555.24,960.63 L556.52,960.07 L557.80,959.50 L559.08,958.93 L560.36,958.36 L561.64,957.78 L562.92,957.20 L564.20,956.61 L565.49,956.02 L566.77,955.42 L568.06,954.82 L569.34,954.21 L570.63,953.60 L571.92,952.98 L573.21,952.36 L574.49,951.74 L575.78,951.11 L577.07,950.47 L578.36,949.83 L579.65,949.19 L580.94,948.54 L582.23,947.89 L583.53,947.23 L584.82,946.57 L586.11,945.90 L587.40,945.22 L588.70,944.55 L589.99,943.86 L591.28,943.18 L592.58,942.48 L593.87,941.79 L595.16,941.08 L596.46,940.38 L597.75,939.66 L599.05,938.95 L600.34,938.22 L601.63,937.50 L602.93,936.76 L604.22,936.03 L605.52,935.29 L606.81,934.54 L608.11,933.79 L609.40,933.03 L610.69,932.27 L611.99,931.50 L613.28,930.73 L614.57,929.95 L615.87,929.17 L617.16,928.38 L618.45,927.59 L619.75,926.79 L621.04,925.99 L622.33,925.18 L623.62,924.36 L624.91,923.55 L626.20,922.72 L627.49,921.89 L628.78,921.06 L630.07,920.22 L631.36,919.37 L632.65,918.52 L633.94,917.67 L635.22,916.81 L636.51,915.94 L637.80,915.07 L639.08,914.20 L640.37,913.31 L641.65,912.43 L642.93,911.54 L644.22,910.64 L645.50,909.73 L646.78,908.83 L648.06,907.91 L649.34,906.99 L650.62,906.07 L651.89,905.14 L653.17,904.20 L654.44,903.26 L655.72,902.32 L656.99,901.37 L658.27,900.41 L659.54,899.45 L660.81,898.48 L662.08,897.50 L663.35,896.53 L664.61,895.54 L665.88,894.55 L667.14,893.56 L668.41,892.55 L669.67,891.55 L670.93,890.54 L672.19,889.52 L673.45,888.49 L674.71,887.47 L675.96,886.43 L677.22,885.39 L678.47,884.35 L679.72,883.29 L680.97,882.24 L682.22,881.17 L683.47,880.11 L684.72,879.03 L685.96,877.95 L687.20,876.87 L688.45,875.78 L689.69,874.68 L690.92,873.58 L692.16,872.47 L693.40,871.36 L694.63,870.24 L695.86,869.11 L697.09,867.98 L698.32,866.85 L699.55,865.70 L700.77,864.56 L702.00,863.40 L703.22,862.24 L704.44,861.08 L705.66,859.91 L706.87,858.73 L708.09,857.55 L709.30,856.36 L710.51,855.17 L711.72,853.97 L712.92,852.76 L714.13,851.55 L715.33,850.34 L716.53,849.11 L717.73,847.88 L718.93,846.65 L720.12,845.41 L721.31,844.16 L722.50,842.91 L723.69,841.66 L724.88,840.39 L726.06,839.12 L727.24,837.85 L728.42,836.57 L729.60,835.28 L730.77,833.99 L731.95,832.69 L733.12,831.39 L734.29,830.08 L735.45,828.76 L736.62,827.44 L737.78,826.12 L738.94,824.78 L740.09,823.45 L741.25,822.10 L742.40,820.75 L743.55,819.40 L744.69,818.04 L745.84,816.67 L746.98,815.30 L748.12,813.92 L749.26,812.53 L750.39,811.14 L751.52,809.75 L752.65,808.35 L753.78,806.94 L754.90,805.53 L756.03,804.11 L757.14,802.68 L758.26,801.25 L759.38,799.82 L760.49,798.38 L761.59,796.93 L762.70,795.48 L763.80,794.02 L764.90,792.55 L766.00,791.08 L767.10,789.61 L768.19,788.13 L769.28,786.64 L770.36,785.15 L771.45,783.65 L772.53,782.15 L773.61,780.64 L774.68,779.12 L775.76,777.60 L776.82,776.08 L777.89,774.55 L778.96,773.01 L780.02,771.47 L781.07,769.92 L782.13,768.37 L783.18,766.81 L784.23,765.25 L785.28,763.68 L786.32,762.10 L787.36,760.52 L788.40,758.94 L789.43,757.35 L790.46,755.75 L791.49,754.15 L792.52,752.54 L793.54,750.93 L794.56,749.31 L795.57,747.69 L796.59,746.07 L797.60,744.43 L798.60,742.80 L799.61,741.15 L800.61,739.50 L801.60,737.85 L802.60,736.19 L803.59,734.53 L804.58,732.86 L805.56,731.19 L806.54,729.51 L807.52,727.83 L808.50,726.14 L809.47,724.45 L810.44,722.75 L811.40,721.05 L812.36,719.34 L813.32,717.63 L814.28,715.91 L815.23,714.19 L816.18,712.46 L817.13,710.73 L818.07,709.00 L819.01,707.26 L819.94,705.51 L820.88,703.76 L821.80,702.01 L822.73,700.25 L823.65,698.49 L824.57,696.72 L825.49,694.95 L826.40,693.18 L827.31,691.40 L828.21,689.61 L829.12,687.82 L830.02,686.03 L830.91,684.23 L831.80,682.43 L832.69,680.63 L833.58,678.82 L834.46,677.01 L835.34,675.19 L836.21,673.37 L837.08,671.54 L837.95,669.71 L838.82,667.88 L839.68,666.04 L840.53,664.20 L841.39,662.36 L842.24,660.51 L843.09,658.66 L843.93,656.81 L844.77,654.95 L845.61,653.09 L846.44,651.22 L847.27,649.35 L848.09,647.48 L848.92,645.61 L849.74,643.73 L850.55,641.85 L851.36,639.96 L852.17,638.07 L852.98,636.18 L853.78,634.29 L854.57,632.39 L855.37,630.49 L856.16,628.59 L856.95,626.68 L857.73,624.77 L858.51,622.86 L859.28,620.95 L860.06,619.03 L860.83,617.11 L861.59,615.19 L862.35,613.27 L863.11,611.34 L863.87,609.41 L864.62,607.48 L865.36,605.54 L866.11,603.61 L866.85,601.67 L867.59,599.73 L868.32,597.79 L869.05,595.84 L869.77,593.90 L870.49,591.95 L871.21,590.00 L871.93,588.05 L872.64,586.09 L873.35,584.14 L874.05,582.18 L874.75,580.22 L875.45,578.26 L876.14,576.30 L876.83,574.33 L877.51,572.37 L878.20,570.40 L878.87,568.43 L879.55,566.47 L880.22,564.50 L880.89,562.53 L881.55,560.55 L882.21,558.58 L882.87,556.61 L883.52,554.63 L884.17,552.66 L884.81,550.68 L885.45,548.70 L886.09,546.73 L886.72,544.75 L887.36,542.77 L887.98,540.79 L888.60,538.81 L889.22,536.83 L889.84,534.85 L890.45,532.87 L891.06,530.89 L891.66,528.91 L892.27,526.93 L892.86,524.95 L893.46,522.97 L894.05,520.99 L894.63,519.01 L895.21,517.03 L895.79,515.05 L896.37,513.07 L896.94,511.09 L897.51,509.11 L898.07,507.13 L898.63,505.15 L899.19,503.18 L899.74,501.20 L900.29,499.22 L900.83,497.25 L901.38,495.28 L901.91,493.30 L902.45,491.33 L902.98,489.36 L903.50,487.39 L904.03,485.42 L904.55,483.46 L905.06,481.49 L905.57,479.53 L906.08,477.56 L906.59,475.60 L907.09,473.64 L907.59,471.68 L908.08,469.73 L908.57,467.77 L909.05,465.82 L909.54,463.87 L910.02,461.92 L910.49,459.97 L910.96,458.02 L911.43,456.08 L911.89,454.14 L912.35,452.20 L912.81,450.26 L913.26,448.33 L913.71,446.40 L914.16,444.46 L914.60,442.54 L915.04,440.61 L915.47,438.69 L915.90,436.77 L916.33,434.85 L916.75,432.94 L917.17,431.02 L917.58,429.12 L918.00,427.21 L918.40,425.31 L918.81,423.41 L919.21,421.51 L919.61,419.61 L920.00,417.72 L920.39,415.83 L920.78,413.95 L921.16,412.07 L921.54,410.19 L921.91,408.31 L922.28,406.44 L922.65,404.58 L923.02,402.71 L923.38,400.85 L923.73,398.99 L924.08,397.14 L924.43,395.29 L924.78,393.44 L925.12,391.60 L925.46,389.76 L925.79,387.93 L926.12,386.10 L926.45,384.27 L926.77,382.45 L927.09,380.63 L927.41,378.81 L927.72,377.00 L928.03,375.20 L928.34,373.39 L928.64,371.60 L928.93,369.80 L929.23,368.01 L929.52,366.23 L929.81,364.45 L930.09,362.67 L930.37,360.90 L930.64,359.14 L930.91,357.37 L931.18,355.62 L931.45,353.86 L931.71,352.12 L931.97,350.37 L932.22,348.63 L932.47,346.90 L932.71,345.17 L932.96,343.45 L933.20,341.73 L933.43,340.01 L933.66,338.31 L933.89,336.60 L934.11,334.90 L934.33,333.21 L934.55,331.52 L934.76,329.84 L934.97,328.16 L935.18,326.48 L935.38,324.82 L935.58,323.15 L935.78,321.49 L935.97,319.84 L936.15,318.20 L936.34,316.55 L936.52,314.92 L936.69,313.29 L936.87,311.66 L937.04,310.04 L937.20,308.43 L937.36,306.82 L937.52,305.21 L937.68,303.62 L937.83,302.02 L937.97,300.44 L938.12,298.86 L938.26,297.28 L938.39,295.71 L938.53,294.15 L938.66,292.59 L938.78,291.04 L938.90,289.49 L939.02,287.95 L939.14,286.41 L939.25,284.88 L939.35,283.36 L939.46,281.84 L939.56,280.33 L939.65,278.82 L939.75,277.32 L939.84,275.83 L939.92,274.34 L940.00,272.86 L940.08,271.38 L940.15,269.91 L940.23,268.44 L940.29,266.99 L940.36,265.53 L940.42,264.09 L940.47,262.64 L940.52,261.21 L940.57,259.78 L940.62,258.36 L940.66,256.94 L940.70,255.53 L940.73,254.12 L940.76,252.72 L940.79,251.33 L940.81,249.94 L940.83,248.56 L940.85,247.19 L940.86,245.82 L940.87,244.46 L940.87,243.10 L940.88,241.75 L940.87,240.41 L940.87,239.07 L940.86,237.74 L940.85,236.41 L940.83,235.09 L940.81,233.77 L940.78,232.47 L940.76,231.16 L940.73,229.87 L940.69,228.58 L940.65,227.30 L940.61,226.02 L940.56,224.75 L940.51,223.48 L940.46,222.22 L940.40,220.97 L940.34,219.72 L940.28,218.48 L940.21,217.24 L940.14,216.01 L940.07,214.79 L939.99,213.57 L939.91,212.36 L939.82,211.16 L939.73,209.96 L939.64,208.77 L939.54,207.58 L939.44,206.40 L939.33,205.22 L939.23,204.05 L939.12,202.89 L939.00,201.73 L938.88,200.58 L938.76,199.44 L938.63,198.30 L938.50,197.17 L938.37,196.04 L938.23,194.92 L938.09,193.80 L937.95,192.69 L937.80,191.59 L937.65,190.49 L937.49,189.40 L937.33,188.31 L937.17,187.23 L937.01,186.16 L936.84,185.09 L936.66,184.02 L936.49,182.97 L936.30,181.91 L936.12,180.87 L935.93,179.83 L935.74,178.79 L935.54,177.77 L935.35,176.74 L935.14,175.73 L934.94,174.71 L934.73,173.71 L934.51,172.71 L934.29,171.71 L934.07,170.72 L933.85,169.74 L933.62,168.76 L933.39,167.79 L933.15,166.82 L932.91,165.86 L932.67,164.91 L932.42,163.96 L932.17,163.01 L931.92,162.07 L931.66,161.14 L931.40,160.21 L931.13,159.29 L930.86,158.37 L930.59,157.46 L930.32,156.55 L930.04,155.65 L929.75,154.75 L929.47,153.86 L929.17,152.97 L928.88,152.09 L928.58,151.22 L928.28,150.35 L927.97,149.48 L927.67,148.62 L927.35,147.77 L927.04,146.92 L926.72,146.07 L926.39,145.23 L926.06,144.40 L925.73,143.57 L925.40,142.75 L925.06,141.93 L924.72,141.11 L924.37,140.30 L924.02,139.50 L923.67,138.70 L923.31,137.91 L922.95,137.12 L922.58,136.33 L922.22,135.55 L921.84,134.78 L921.47,134.01 L921.09,133.24 L920.71,132.48 L920.32,131.73 L919.93,130.98 L919.53,130.23 L919.14,129.49 L918.74,128.75 L918.33,128.02 L917.92,127.29 L917.51,126.57 L917.09,125.85 L916.67,125.14 L916.25,124.43 L915.82,123.72 L915.39,123.02 L914.96,122.32 L914.52,121.63 L914.07,120.95 L913.63,120.26 L913.18,119.59 L912.73,118.91 L912.27,118.24 L911.81,117.58 L911.34,116.92 L910.88,116.26 L910.40,115.61 L909.93,114.96 L909.45,114.31 L908.97,113.67 L908.48,113.04 L907.99,112.41 L907.49,111.78 L907.00,111.16 L906.49,110.54 L905.99,109.92 L905.48,109.31 L904.97,108.71 L904.45,108.10 L903.93,107.50 L903.41,106.91 L902.88,106.32 L902.35,105.73 L901.81,105.15 L901.28,104.57 L900.73,103.99 L900.19,103.42 L899.64,102.85 L899.08,102.29 L898.53,101.73 L897.97,101.17 L897.40,100.62 L896.83,100.07 L896.26,99.53 L895.69,98.98 L895.11,98.45 L894.52,97.91 L893.94,97.38 L893.35,96.85 L892.75,96.33 L892.16,95.81 L891.55,95.29 L890.95,94.78 L890.34,94.27 L889.73,93.76 L889.11,93.26 L888.49,92.76 L887.87,92.27 L887.24,91.77 L886.61,91.28 L885.97,90.80 L885.34,90.32 L884.69,89.84 L884.05,89.36 L883.40,88.89 L882.75,88.42 L882.09,87.95 L881.43,87.49 L880.76,87.03 L880.10,86.57 L879.42,86.12 L878.75,85.67 L878.07,85.22 L877.39,84.78 L876.70,84.34 L876.01,83.90 L875.32,83.46 L874.62,83.03 L873.92,82.60 L873.22,82.18 L872.51,81.75 L871.80,81.33 L871.08,80.92 L870.36,80.50 L869.64,80.09 L868.91,79.68 L868.18,79.28 L867.45,78.87 L866.71,78.47 L865.97,78.08 L865.23,77.68 L864.48,77.29 L863.73,76.90 L862.97,76.51 L862.21,76.13 L861.45,75.75 L860.69,75.37 L859.92,75.00 L859.14,74.62 L858.37,74.25 L857.59,73.89 L856.80,73.52 L856.01,73.16 L855.22,72.80 L854.43,72.44 L853.63,72.09 L852.83,71.73 L852.02,71.38 L851.21,71.04 L850.40,70.69 L849.59,70.35 L848.77,70.01 L847.94,69.67 L847.12,69.34 L846.29,69.00 L845.45,68.67 L844.61,68.34 L843.77,68.02 L842.93,67.70 L842.08,67.37 L841.23,67.05 L840.38,66.74 L839.52,66.42 L838.66,66.11 L837.79,65.80 L836.92,65.49 L836.05,65.19 L835.18,64.88 L834.30,64.58 L833.41,64.28 L832.53,63.99 L831.64,63.69 L830.75,63.40 L829.85,63.11 L828.95,62.82 L828.05,62.53 L827.14,62.25 L826.23,61.97 L825.32,61.69 L824.40,61.41 L823.48,61.13 L822.56,60.86 L821.63,60.58 L820.70,60.31 L819.77,60.05 L818.83,59.78 L817.90,59.51 L816.95,59.25 L816.01,58.99 L815.06,58.73 L814.10,58.47 L813.15,58.22 L812.19,57.97 L811.23,57.71 L810.26,57.46 L809.29,57.22 L808.32,56.97 L807.34,56.72 L806.36,56.48 L805.38,56.24 L804.40,56.00 L803.41,55.76 L802.42,55.53 L801.42,55.29 L800.42,55.06 L799.42,54.83 L798.42,54.60 L797.41,54.37 L796.40,54.15 L795.39,53.92 L794.37,53.70 L793.35,53.48 L792.33,53.26 L791.30,53.04 L790.27,52.83 L789.24,52.61 L788.21,52.40 L787.17,52.19 L786.13,51.98 L785.09,51.77 L784.04,51.56 L782.99,51.36 L781.94,51.15 L780.88,50.95 L779.82,50.75 L778.76,50.55 L777.70,50.35 L776.63,50.16 L775.56,49.96 L774.49,49.77 L773.41,49.57 L772.33,49.38 L771.25,49.19 L770.17,49.00 L769.08,48.82 L767.99,48.63 L766.90,48.45 L765.80,48.27 L764.70,48.08 L763.60,47.90 L762.50,47.72 L761.39,47.55 L760.28,47.37 L759.17,47.20 L758.06,47.02 L756.94,46.85 L755.82,46.68 L754.70,46.51 L753.57,46.34 L752.45,46.17 L751.32,46.01 L750.18,45.84 L749.05,45.68 L747.91,45.51 L746.77,45.35 L745.63,45.19 L744.48,45.03 L743.34,44.88 L742.19,44.72 L741.03,44.56 L739.88,44.41 L738.72,44.25 L737.56,44.10 L736.40,43.95 L735.24,43.80 L734.07,43.65 L732.90,43.50 L731.73,43.36 L730.56,43.21 L729.38,43.07 L728.21,42.92 L727.03,42.78 L725.84,42.64 L724.66,42.50 L723.47,42.36 L722.28,42.22 L721.09,42.08 L719.90,41.95 L718.71,41.81 L717.51,41.68 L716.31,41.55 L715.11,41.41 L713.91,41.28 L712.70,41.15 L711.50,41.02 L710.29,40.89 L709.08,40.77 L707.86,40.64 L706.65,40.51 L705.43,40.39 L704.21,40.26 L702.99,40.14 L701.77,40.02 L700.55,39.90 L699.32,39.78 L698.10,39.66 L696.87,39.54 L695.64,39.42 L694.40,39.31 L693.17,39.19 L691.93,39.08 L690.70,38.96 L689.46,38.85 L688.22,38.74 L686.98,38.63 L685.73,38.51 L684.49,38.40 L683.24,38.30 L681.99,38.19 L680.74,38.08 L679.49,37.97 L678.24,37.87 L676.99,37.76 L675.73,37.66 L674.48,37.55 L673.22,37.45 L671.96,37.35 L670.70,37.25 L669.44,37.15 L668.17,37.05 L666.91,36.95 L665.65,36.85 L664.38,36.75 L663.11,36.66 L661.84,36.56 L660.57,36.47 L659.30,36.37 L658.03,36.28 L656.76,36.19 L655.49,36.09 L654.21,36.00 L652.93,35.91 L651.66,35.82 L650.38,35.73 L649.10,35.64 L647.82,35.55 L646.54,35.47 L645.26,35.38 L643.98,35.29 L642.70,35.21 L641.41,35.12 L640.13,35.04 L638.85,34.96 L637.56,34.87 L636.27,34.79 L634.99,34.71 L633.70,34.63 L632.41,34.55 L631.12,34.47 L629.84,34.39 L628.55,34.31 L627.26,34.23 L625.97,34.16 L624.68,34.08 L623.38,34.00 L622.09,33.93 L620.80,33.85 L619.51,33.78 L618.22,33.70 L616.92,33.63 L615.63,33.56 L614.34,33.49 L613.04,33.42 L611.75,33.34 L610.46,33.27 L609.16,33.20 L607.87,33.14 L606.57,33.07 L605.28,33.00 L603.98,32.93 L602.69,32.86 L601.40,32.80 L600.10,32.73 L598.81,32.67 L597.51,32.60 L596.22,32.54 L594.93,32.47 L593.63,32.41 L592.34,32.35 L591.04,32.29 L589.75,32.22 L588.46,32.16 L587.16,32.10 L585.87,32.04 L584.58,31.98 L583.29,31.92 L582.00,31.86 L580.71,31.81 L579.42,31.75 L578.13,31.69 L576.84,31.63 L575.55,31.58 L574.26,31.52 L572.97,31.47 L571.68,31.41 L570.39,31.36 L569.11,31.30 L567.82,31.25 L566.54,31.20 L565.25,31.15 L563.97,31.09 L562.69,31.04 L561.40,30.99 L560.12,30.94 L558.84,30.89 L557.56,30.84 L556.28,30.79 L555.00,30.74 L553.73,30.69 L552.45,30.64 L551.17,30.60 L549.90,30.55 L548.62,30.50 L547.35,30.46 L546.08,30.41 L544.81,30.36 L543.54,30.32 L542.27,30.27 L541.00,30.23 L539.74,30.19 L538.47,30.14 L537.21,30.10 L535.95,30.06 L534.69,30.01 L533.42,29.97 L532.17,29.93 L530.91,29.89 L529.65,29.85 L528.40,29.81 L527.14,29.77 L525.89,29.73 L524.64,29.69 L523.39,29.65 L522.14,29.61 L520.90,29.58 L519.65,29.54 L518.41,29.50 L517.16,29.46 L515.92,29.43 L514.68,29.39 L513.45,29.35 L512.21,29.32 L510.98,29.28 L509.74,29.25 L508.51,29.22 L507.28,29.18 L506.06,29.15 L504.83,29.11 L503.61,29.08 L502.38,29.05 L501.16,29.02 L499.94,28.99 L498.73,28.95 L497.51,28.92 L496.30,28.89 L495.09,28.86 L493.88,28.83 L492.67,28.80 L491.46,28.77 L490.26,28.74 L489.06,28.71 L487.86,28.69 L486.66,28.66 L485.46,28.63 L484.27,28.60 L483.08,28.58 L481.89,28.55 L480.70,28.52 L479.51,28.50 L478.33,28.47 L477.15,28.44 L475.97,28.42 L474.79,28.39 L473.62,28.37 L472.44,28.35 L471.27,28.32 L470.10,28.30 L468.94,28.28 L467.77,28.25 L466.61,28.23 L465.45,28.21 L464.30,28.19 L463.14,28.16 L461.99,28.14 L460.84,28.12 L459.69,28.10 L458.55,28.08 L457.40,28.06 L456.26,28.04 L455.13,28.02 L453.99,28.00 L452.86,27.98 L451.73,27.96 L450.60,27.95 L449.47,27.93 L448.35,27.91 L447.23,27.89 L446.11,27.88 L444.99,27.86 L443.88,27.84 L442.77,27.83 L441.66,27.81 L440.56,27.80 L439.45,27.78 L438.35,27.76 L437.25,27.75 L436.16,27.74 L435.07,27.72 L433.98,27.71 L432.89,27.69 L431.81,27.68 L430.72,27.67 L429.64,27.66 L428.57,27.64 L427.49,27.63 L426.42,27.62 L425.36,27.61 L424.29,27.60 L423.23,27.58 L422.17,27.57 L421.11,27.56 L420.06,27.55 L419.00,27.54 L417.95,27.53 L416.91,27.52 L415.87,27.52 L414.82,27.51 L413.79,27.50 L412.75,27.49 L411.72,27.48 L410.69,27.47 L409.67,27.47 L408.64,27.46 L407.62,27.45 L406.60,27.45 L405.59,27.44 L404.58,27.43 L403.57,27.43 L402.56,27.42 L401.56,27.42 L400.56,27.41 L399.56,27.41 L398.57,27.40 L397.58,27.40 L396.59,27.40 L395.60,27.39 L394.62,27.39 L393.64,27.39 L392.66,27.38 L391.69,27.38 L390.72,27.38 L389.75,27.38 L388.79,27.38 L387.82,27.37 L386.87,27.37 L385.91,27.37 L384.96,27.37 L384.01,27.37 L383.06,27.37 L382.12,27.37 L381.18,27.37 L380.24,27.37 L379.30,27.37 L378.37,27.38 L377.44,27.38 L376.52,27.38 L375.60,27.38 L374.68,27.38 L373.76,27.39 L372.85,27.39 L371.94,27.39 L371.03,27.40 L370.12,27.40 L369.22,27.41 L368.33,27.41 L367.43,27.41 L366.54,27.42 L365.65,27.42 L364.76,27.43 L363.88,27.44 L363.00,27.44 L362.12,27.45 L361.25,27.45 L360.38,27.46 L359.51,27.47 L358.65,27.48 L357.79,27.48 L356.93,27.49 L356.07,27.50 L355.22,27.51 L354.37,27.52 L353.52,27.53 L352.68,27.54 L351.84,27.55 L351.00,27.56 L350.17,27.57 L349.34,27.58 L348.51,27.59 L347.69,27.60 L346.86,27.61 L346.04,27.62 L345.23,27.63 L344.42,27.65 L343.61,27.66 L342.80,27.67 L342.00,27.68 L341.20,27.70 L340.40,27.71 L339.60,27.73 L338.81,27.74 L338.02,27.75 L337.24,27.77 L336.46,27.78 L335.68,27.80 L334.90,27.82 L334.13,27.83 L333.36,27.85 L332.59,27.86 L331.82,27.88 L331.06,27.90 L330.31,27.92 L329.55,27.93 L328.80,27.95 L328.05,27.97 L327.30,27.99 L326.56,28.01 L325.82,28.03 L325.08,28.05 L324.35,28.07 L323.61,28.09 L322.89,28.11 L322.16,28.13 L321.44,28.15 L320.72,28.17 L320.00,28.19 L319.29,28.21 L318.58,28.24 L317.87,28.26 L317.16,28.28 L316.46,28.31 L315.76,28.33 L315.07,28.35 L314.37,28.38 L313.68,28.40 L312.99,28.43 L312.31,28.45 L311.63,28.48 L310.95,28.50 L310.27,28.53 L309.60,28.56 L308.93,28.58 L308.26,28.61 L307.60,28.64 L306.93,28.66 L306.28,28.69 L305.62,28.72 L304.97,28.75 L304.32,28.78 L303.67,28.81 L303.02,28.84 L302.38,28.87 L301.74,28.90 L301.10,28.93 L300.47,28.96 L299.84,28.99 L299.21,29.03 L298.59,29.06 L297.96,29.09 L297.34,29.12 L296.73,29.16 L296.11,29.19 L295.50,29.22 L294.89,29.26 L294.28,29.29 L293.68,29.33 L293.08,29.36 L292.48,29.40 L291.89,29.44 L291.29,29.47 L290.70,29.51 L290.12,29.55 L289.53,29.59 L288.95,29.62 L288.37,29.66 L287.79,29.70 L287.22,29.74 L286.65,29.78 L286.08,29.82 L285.51,29.86 L284.95,29.90 L284.38,29.94 L283.83,29.98 L283.27,30.03 L282.72,30.07 L282.17,30.11 L281.62,30.15 L281.07,30.20 L280.53,30.24 L279.99,30.29 L279.45,30.33 L278.91,30.38 L278.38,30.42 L277.85,30.47 L277.32,30.51 L276.79,30.56 L276.27,30.61 L275.75,30.66 L275.23,30.71 L274.72,30.75 L274.20,30.80 L273.69,30.85 L273.18,30.90 L272.68,30.95 L272.17,31.00 L271.67,31.06 L271.17,31.11 L270.68,31.16 L270.18,31.21 L269.69,31.26 L269.20,31.32 L268.71,31.37 L268.23,31.43 L267.75,31.48 L267.27,31.54 L266.79,31.59 L266.31,31.65 L265.84,31.71 L265.37,31.76 L264.90,31.82 L264.43,31.88 L263.97,31.94 L263.51,32.00 L263.05,32.06 L262.59,32.12 L262.14,32.18 L261.68,32.24 L261.23,32.30 L260.79,32.36 L260.34,32.43 L259.90,32.49 L259.45,32.55 L259.02,32.62 L258.58,32.68 L258.14,32.75 L257.71,32.82 L257.28,32.88 L256.85,32.95 L256.42,33.02 L256.00,33.09 L255.58,33.15 L255.16,33.22 L254.74,33.29 L254.32,33.36 L253.91,33.43 L253.50,33.51 L253.09,33.58 L252.68,33.65 L252.28,33.72 L251.87,33.80 L251.47,33.87 L251.07,33.95 L250.68,34.02 L250.28,34.10 L249.89,34.18 L249.50,34.25 L249.11,34.33 L248.72,34.41 L248.33,34.49 L247.95,34.57 L247.57,34.65 L247.19,34.73 L246.81,34.81 L246.44,34.89 L246.06,34.98 L245.69,35.06 L245.32,35.15 L244.95,35.23 L244.59,35.32 L244.22,35.40 L243.86,35.49 L243.50,35.58 L243.14,35.67 L242.79,35.76 L242.43,35.84 L242.08,35.94 L241.73,36.03 L241.38,36.12 L241.03,36.21 L240.69,36.30 L240.34,36.40 L240.00,36.49 L239.66,36.59 L239.32,36.68 L238.99,36.78 L238.65,36.88 L238.32,36.98 L237.99,37.08 L237.66,37.18 L237.33,37.28 L237.01,37.38 L236.68,37.48 L236.36,37.58 L236.04,37.69 L235.72,37.79 L235.40,37.90 L235.09,38.00 L234.77,38.11 L234.46,38.22 L234.15,38.32 L233.84,38.43 L233.53,38.54 L233.23,38.65 L232.92,38.77 L232.62,38.88 L232.32,38.99 L232.02,39.11 L231.72,39.22 L231.43,39.34 L231.13,39.45 L230.84,39.57 L230.55,39.69 L230.26,39.81 L229.97,39.93 L229.68,40.05 L229.40,40.17 L229.12,40.30 L228.83,40.42 L228.55,40.55 L228.28,40.67 L228.00,40.80 L227.72,40.93 L227.45,41.06 L227.18,41.19 L226.90,41.32 L226.63,41.45 L226.37,41.58 L226.10,41.71 L225.83,41.85 L225.57,41.98 L225.31,42.12 L225.05,42.26 L224.79,42.40 L224.53,42.54 L224.27,42.68 L224.02,42.82 L223.76,42.96 L223.51,43.11 L223.26,43.25 L223.01,43.40 L222.76,43.54 L222.52,43.69 L222.27,43.84 L222.03,43.99 L221.78,44.14 L221.54,44.30 L221.30,44.45 L221.06,44.60 L220.83,44.76 L220.59,44.92 L220.35,45.07 L220.12,45.23 L219.89,45.39 L219.66,45.56 L219.43,45.72 L219.20,45.88 L218.97,46.05 L218.75,46.22 L218.52,46.38 L218.30,46.55 L218.08,46.72 L217.86,46.89 L217.64,47.07 L217.42,47.24 L217.20,47.42 L216.99,47.59 L216.77,47.77 L216.56,47.95 L216.35,48.13 L216.14,48.31 L215.93,48.50 L215.72,48.68 L215.51,48.87 L215.31,49.05 L215.10,49.24 L214.90,49.43 L214.70,49.62 L214.50,49.82 L214.30,50.01 L214.10,50.21 L213.90,50.40 L213.70,50.60 L213.51,50.80 L213.31,51.00 L213.12,51.21 L212.93,51.41 L212.74,51.62 L212.55,51.82 L212.36,52.03 L212.17,52.24 L211.99,52.46 L211.80,52.67 L211.62,52.88 L211.43,53.10 L211.25,53.32 L211.07,53.54 L210.89,53.76 L210.71,53.98 L210.54,54.21 L210.36,54.43 L210.18,54.66 L210.01,54.89 L209.83,55.12 L209.66,55.36 L209.49,55.59 L209.32,55.83 L209.15,56.06 L208.98,56.30 L208.82,56.55 L208.65,56.79 L208.48,57.03 L208.32,57.28 L208.16,57.53 L207.99,57.78 L207.83,58.03 L207.67,58.29 L207.51,58.54 L207.35,58.80 L207.20,59.06 L207.04,59.32 L206.88,59.58 L206.73,59.85 L206.58,60.12 L206.42,60.39 L206.27,60.66 L206.12,60.93 L205.97,61.20 L205.82,61.48 L205.67,61.76 L205.53,62.04 L205.38,62.32 L205.24,62.61 L205.09,62.90 L204.95,63.19 L204.80,63.48 L204.66,63.77 L204.52,64.07 L204.38,64.36 L204.24,64.66 L204.11,64.96 L203.97,65.27 L203.83,65.57 L203.70,65.88 L203.56,66.19 L203.43,66.51 L203.30,66.82 L203.16,67.14 L203.03,67.46 L202.90,67.78 L202.77,68.10 L202.64,68.43 L202.52,68.76 L202.39,69.09 L202.26,69.42 L202.14,69.76 L202.01,70.10 L201.89,70.44 L201.77,70.78 L201.64,71.13 L201.52,71.48 L201.40,71.83 L201.28,72.18 L201.16,72.54 L201.05,72.89 L200.93,73.25 L200.81,73.62 L200.70,73.98 L200.58,74.35 L200.47,74.72 L200.35,75.10 L200.24,75.47 L200.13,75.85 L200.02,76.23 L199.91,76.62 L199.80,77.00 L199.69,77.39 L199.58,77.79 L199.47,78.18 L199.37,78.58 L199.26,78.98 L199.16,79.38 L199.05,79.79 L198.95,80.20 L198.85,80.61 L198.74,81.03 L198.64,81.44 L198.54,81.86 L198.44,82.29 L198.34,82.72 L198.24,83.15 L198.15,83.58 L198.05,84.01 L197.95,84.45 L197.86,84.89 L197.76,85.34 L197.67,85.79 L197.57,86.24 L197.48,86.69 L197.39,87.15 L197.30,87.61 L197.21,88.07 L197.12,88.54 L197.03,89.01 L196.94,89.49 L196.85,89.96 L196.76,90.44 L196.68,90.93 L196.59,91.41 L196.50,91.90 L196.42,92.40 L196.33,92.89 L196.25,93.39 L196.17,93.90 L196.09,94.40 L196.00,94.91 L195.92,95.43 L195.84,95.95 L195.76,96.47 L195.68,96.99 L195.61,97.52 L195.53,98.05 L195.45,98.59 L195.38,99.13 L195.30,99.67 L195.22,100.21 L195.15,100.76 L195.08,101.32 L195.00,101.88 L194.93,102.44 L194.86,103.00 L194.79,103.57 L194.71,104.14 L194.64,104.72 L194.57,105.30 L194.51,105.89 L194.44,106.47 L194.37,107.07 L194.30,107.66 L194.24,108.26 L194.17,108.87 L194.10,109.47 L194.04,110.09 L193.97,110.70 L193.91,111.32 L193.85,111.95 L193.78,112.57 L193.72,113.21 L193.66,113.84 L193.60,114.48 L193.54,115.13 L193.48,115.78 L193.42,116.43 L193.36,117.09 L193.30,117.75 L193.25,118.42 L193.19,119.09 L193.13,119.76 L193.08,120.44 L193.02,121.13 L192.97,121.81 L192.91,122.51 L192.86,123.20 L192.81,123.91 L192.76,124.61 L192.70,125.32 L192.65,126.04 L192.60,126.76 L192.55,127.48 L192.50,128.21 L192.45,128.94 L192.40,129.68 L192.36,130.43 L192.31,131.17 L192.26,131.93 L192.22,132.68 L192.17,133.44 L192.12,134.21 L192.08,134.98 L192.04,135.76 L191.99,136.54 L191.95,137.32 L191.91,138.12 L191.86,138.91 L191.82,139.71 L191.78,140.52 L191.74,141.33 L191.70,142.14 L191.66,142.96 L191.62,143.79 L191.58,144.62 L191.54,145.45 L191.51,146.30 L191.47,147.14 L191.43,147.99 L191.40,148.85 L191.36,149.71 L191.33,150.58 L191.29,151.45 L191.26,152.32 L191.23,153.21 L191.19,154.09 L191.16,154.99 L191.13,155.88 L191.10,156.79 L191.07,157.70 L191.04,158.61 L191.01,159.53 L190.98,160.45 L190.95,161.38 L190.92,162.32 L190.89,163.26 L190.86,164.21 L190.84,165.16 L190.81,166.11 L190.79,167.08 L190.76,168.05 L190.73,169.02 L190.71,170.00 L190.69,170.98 L190.66,171.97 L190.64,172.97 L190.62,173.97 L190.60,174.98 L190.57,175.99 L190.55,177.01 L190.53,178.04 L190.51,179.07 L190.49,180.10 L190.47,181.14 L190.46,182.19 L190.44,183.24 L190.42,184.30 L190.40,185.37 L190.39,186.44 L190.37,187.51 L190.35,188.60 L190.34,189.68 L190.32,190.78 L190.31,191.88 L190.30,192.98 L190.28,194.09 L190.27,195.21 L190.26,196.33 L190.25,197.46 L190.23,198.60 L190.22,199.74 L190.21,200.89 L190.20,202.04 L190.19,203.20 L190.19,204.36 L190.18,205.53 L190.17,206.71 L190.16,207.89 L190.15,209.08 L190.15,210.27 L190.14,211.47 L190.14,212.68 L190.13,213.89 L190.13,215.11 L190.12,216.34 L190.12,217.57 L190.11,218.81 L190.11,220.05 L190.11,221.30 L190.11,222.55 L190.11,223.81 L190.11,225.08 L190.10,226.35 L190.10,227.63 L190.11,228.92 L190.11,230.21 L190.11,231.51 L190.11,232.81 L190.11,234.12 L190.12,235.44 L190.12,236.76 L190.12,238.09 L190.13,239.42 L190.13,240.76 L190.14,242.11 L190.14,243.46 L190.15,244.82 L190.16,246.18 L190.16,247.55 L190.17,248.93 L190.18,250.31 L190.19,251.70 L190.20,253.09 L190.21,254.49 L190.22,255.90 L190.23,257.31 L190.24,258.73 L190.25,260.16 L190.26,261.59 L190.27,263.02 L190.29,264.47 L190.30,265.91 L190.31,267.37 L190.33,268.83 L190.34,270.30 L190.36,271.77 L190.37,273.25 L190.39,274.73 L190.41,276.22 L190.42,277.72 L190.44,279.22 L190.46,280.73 L190.48,282.24 L190.50,283.76 L190.52,285.29 L190.54,286.82 L190.56,288.35 L190.58,289.90 L190.60,291.44 L190.62,293.00 L190.64,294.56 L190.67,296.12 L190.69,297.70 L190.71,299.27 L190.74,300.85 L190.76,302.44 L190.79,304.04 L190.82,305.64 L190.84,307.24 L190.87,308.85 L190.90,310.47 L190.92,312.09 L190.95,313.72 L190.98,315.35 L191.01,316.99 L191.04,318.63 L191.07,320.28 L191.10,321.93 L191.13,323.59 L191.17,325.25 L191.20,326.92 L191.23,328.60 L191.27,330.28 L191.30,331.96 L191.33,333.65 L191.37,335.35 L191.40,337.05 L191.44,338.75 L191.48,340.46 L191.51,342.18 L191.55,343.90 L191.59,345.63 L191.63,347.36 L191.67,349.09 L191.71,350.83 L191.75,352.58 L191.79,354.32 L191.83,356.08 L191.87,357.84 L191.91,359.60 L191.96,361.37 L192.00,363.14 L192.04,364.92 L192.09,366.70" stroke="#000" stroke-width="4.9" fill="none" stroke-dasharray="2.0 10.54" stroke-dashoffset="5.47"/>
<g font-size="21.6" text-anchor="middle">
<text x="280.0" y="73.10">7</text>
<text x="248.2" y="85.20"><tspan class="one">1</tspan>6</text>
<text x="286.1" y="40.80"><tspan class="one">1</tspan>4</text>
<text x="275.2" y="41.10">3</text>
<text x="275.8" y="131.80"><tspan class="one">1</tspan>7</text>
<text x="358.9" y="97.80"><tspan class="one">1</tspan>8</text>
<text x="269.8" y="309.30">4</text>
<text x="898.5" y="240.20"><tspan class="one">1</tspan>0</text>
<text x="485.3" y="246.60">9</text>
<text x="441.6" y="276.40"><tspan class="one">1</tspan>5</text>
<text x="418.6" y="281.90"><tspan class="one">1</tspan>2</text>
<text x="392.6" y="275.10"><tspan class="one">1</tspan>9</text>
<text x="441.8" y="318.70"><tspan class="one">1</tspan>3</text>
<text x="446.1" y="379.10"><tspan class="one">1</tspan></text>
<text x="643.4" y="403.10">2</text>
<text x="658.9" y="517.85">5</text>
<text x="246.6" y="570.20">6</text>
<text x="321.8" y="602.10">8</text>
<text x="417.9" y="660.00"><tspan class="one">1</tspan><tspan class="one">1</tspan></text>
</g>
<g font-size="33.2" text-anchor="end">
<text x="118.2" y="23.0"><tspan class="one">1</tspan>.0</text>
<text x="118.2" y="645.8">0.5</text>
<text x="118.2" y="1268.7">0.0</text>
</g>
<g font-size="33.2" text-anchor="middle">
<text x="151.3" y="1313.3"><tspan class="one">1</tspan>.0</text>
<text x="774" y="1313.3">0.5</text>
<text x="1396.7" y="1313.3">0.0</text>
</g>
<text transform="translate(774.85,1366.9) scale(0.98,1)" font-size="55.5" text-anchor="middle">Specificity</text>
<text transform="translate(40.2,634.3) rotate(-90) scale(0.977,1)" font-size="55.5" text-anchor="middle">Sensitivity</text>
<rect x="940.7" y="830.7" width="437.6" height="408.3" fill="#fff" stroke="#000" stroke-width="3"/>
<circle cx="980" cy="880.3" r="17.9" fill="#efefef" stroke="#000" stroke-width="4.6"/>
<path d="M980.6,944.1 L1000.5,964 L980.6,983.9 L960.7,964 Z" fill="#ff4500"/>
<path d="M964,1047.75 H995.8" stroke="#000" stroke-width="4.8"/>
<path d="M964,1118.1 H995.8" stroke="#000" stroke-width="3.2"/>
<path d="M964.2,1187.8 H991.4" stroke="#000" stroke-width="4.9" stroke-dasharray="2.0 10.55"/>
<g font-size="27.15">
<text x="1028.3" y="890">Observed Data</text>
<text x="1028.3" y="946.3">Summary Operating Point</text>
<text x="1028.3" y="973.5">SENS = 0.82 [0.73 - 0.89]</text>
<text x="1028.3" y="1001">SPEC = 0.8<tspan class="one">1</tspan> [0.74 - 0.86]</text>
<text x="1028.3" y="1043">SROC Curve</text>
<text x="1028.3" y="1070.7">AUC = 0.88 [0.85 - 0.9<tspan class="one">1</tspan>]</text>
<text x="1028.3" y="1127">95% Confidence Contour</text>
<text x="1028.3" y="1197.2">95% Prediction Contour</text>
</g>
<g fill="#000" stroke="#000" stroke-width="0.8" vector-effect="non-scaling-stroke">
<path vector-effect="non-scaling-stroke" transform="translate(236.18,85.20) scale(21.6,-21.6)" d="M0.289,0 L0.366,0 L0.366,0.708 L0.302,0.708 C0.283,0.640 0.215,0.548 0.095,0.532 L0.095,0.462 C0.172,0.468 0.250,0.498 0.289,0.545 Z"/>
<path vector-effect="non-scaling-stroke" transform="translate(274.08,40.80) scale(21.6,-21.6)" d="M0.289,0 L0.366,0 L0.366,0.708 L0.302,0.708 C0.283,0.640 0.215,0.548 0.095,0.532 L0.095,0.462 C0.172,0.468 0.250,0.498 0.289,0.545 Z"/>
<path vector-effect="non-scaling-stroke" transform="translate(263.78,131.80) scale(21.6,-21.6)" d="M0.289,0 L0.366,0 L0.366,0.708 L0.302,0.708 C0.283,0.640 0.215,0.548 0.095,0.532 L0.095,0.462 C0.172,0.468 0.250,0.498 0.289,0.545 Z"/>
<path vector-effect="non-scaling-stroke" transform="translate(346.88,97.80) scale(21.6,-21.6)" d="M0.289,0 L0.366,0 L0.366,0.708 L0.302,0.708 C0.283,0.640 0.215,0.548 0.095,0.532 L0.095,0.462 C0.172,0.468 0.250,0.498 0.289,0.545 Z"/>
<path vector-effect="non-scaling-stroke" transform="translate(886.48,240.20) scale(21.6,-21.6)" d="M0.289,0 L0.366,0 L0.366,0.708 L0.302,0.708 C0.283,0.640 0.215,0.548 0.095,0.532 L0.095,0.462 C0.172,0.468 0.250,0.498 0.289,0.545 Z"/>
<path vector-effect="non-scaling-stroke" transform="translate(429.58,276.40) scale(21.6,-21.6)" d="M0.289,0 L0.366,0 L0.366,0.708 L0.302,0.708 C0.283,0.640 0.215,0.548 0.095,0.532 L0.095,0.462 C0.172,0.468 0.250,0.498 0.289,0.545 Z"/>
<path vector-effect="non-scaling-stroke" transform="translate(406.58,281.90) scale(21.6,-21.6)" d="M0.289,0 L0.366,0 L0.366,0.708 L0.302,0.708 C0.283,0.640 0.215,0.548 0.095,0.532 L0.095,0.462 C0.172,0.468 0.250,0.498 0.289,0.545 Z"/>
<path vector-effect="non-scaling-stroke" transform="translate(380.58,275.10) scale(21.6,-21.6)" d="M0.289,0 L0.366,0 L0.366,0.708 L0.302,0.708 C0.283,0.640 0.215,0.548 0.095,0.532 L0.095,0.462 C0.172,0.468 0.250,0.498 0.289,0.545 Z"/>
<path vector-effect="non-scaling-stroke" transform="translate(429.78,318.70) scale(21.6,-21.6)" d="M0.289,0 L0.366,0 L0.366,0.708 L0.302,0.708 C0.283,0.640 0.215,0.548 0.095,0.532 L0.095,0.462 C0.172,0.468 0.250,0.498 0.289,0.545 Z"/>
<path vector-effect="non-scaling-stroke" transform="translate(440.09,379.10) scale(21.6,-21.6)" d="M0.289,0 L0.366,0 L0.366,0.708 L0.302,0.708 C0.283,0.640 0.215,0.548 0.095,0.532 L0.095,0.462 C0.172,0.468 0.250,0.498 0.289,0.545 Z"/>
<path vector-effect="non-scaling-stroke" transform="translate(405.88,660.00) scale(21.6,-21.6)" d="M0.289,0 L0.366,0 L0.366,0.708 L0.302,0.708 C0.283,0.640 0.215,0.548 0.095,0.532 L0.095,0.462 C0.172,0.468 0.250,0.498 0.289,0.545 Z"/>
<path vector-effect="non-scaling-stroke" transform="translate(417.90,660.00) scale(21.6,-21.6)" d="M0.289,0 L0.366,0 L0.366,0.708 L0.302,0.708 C0.283,0.640 0.215,0.548 0.095,0.532 L0.095,0.462 C0.172,0.468 0.250,0.498 0.289,0.545 Z"/>
<path vector-effect="non-scaling-stroke" transform="translate(72.04,23.00) scale(33.2,-33.2)" d="M0.289,0 L0.366,0 L0.366,0.708 L0.302,0.708 C0.283,0.640 0.215,0.548 0.095,0.532 L0.095,0.462 C0.172,0.468 0.250,0.498 0.289,0.545 Z"/>
<path vector-effect="non-scaling-stroke" transform="translate(128.22,1313.30) scale(33.2,-33.2)" d="M0.289,0 L0.366,0 L0.366,0.708 L0.302,0.708 C0.283,0.640 0.215,0.548 0.095,0.532 L0.095,0.462 C0.172,0.468 0.250,0.498 0.289,0.545 Z"/>
<path vector-effect="non-scaling-stroke" transform="translate(1170.88,1001.00) scale(27.15,-27.15)" d="M0.289,0 L0.366,0 L0.366,0.708 L0.302,0.708 C0.283,0.640 0.215,0.548 0.095,0.532 L0.095,0.462 C0.172,0.468 0.250,0.498 0.289,0.545 Z"/>
<path vector-effect="non-scaling-stroke" transform="translate(1299.11,1070.70) scale(27.15,-27.15)" d="M0.289,0 L0.366,0 L0.366,0.708 L0.302,0.708 C0.283,0.640 0.215,0.548 0.095,0.532 L0.095,0.462 C0.172,0.468 0.250,0.498 0.289,0.545 Z"/>
</g>
</svg>
</body></html>
